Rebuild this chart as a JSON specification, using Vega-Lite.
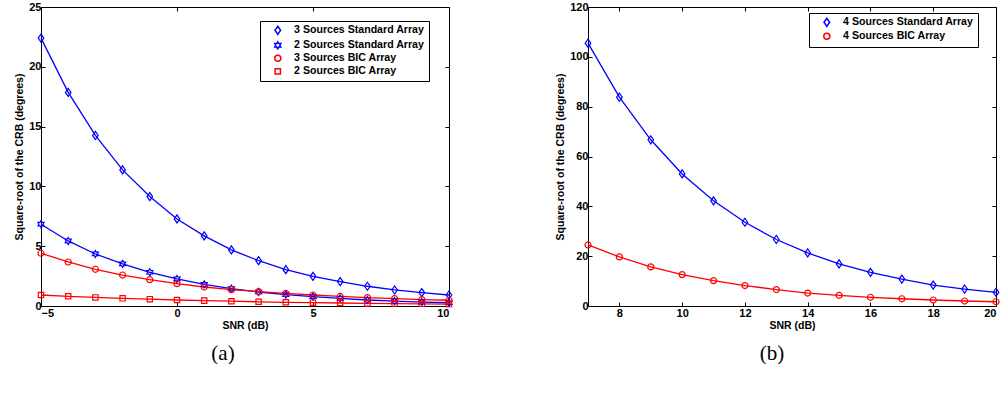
{
  "$schema": "https://vega.github.io/schema/vega-lite/v6.json",
  "background": "white",
  "padding": {"left": 14, "top": 0, "right": 5, "bottom": 0},
  "config": {
    "view": {"stroke": "black", "strokeWidth": 1},
    "axis": {"domain": false, "grid": false, "tickColor": "black", "tickSize": -4, "tickWidth": 1,
      "labelFont": "Liberation Sans", "labelFontWeight": "bold", "labelFontSize": 11, "labelColor": "black", "labelPadding": 5,
      "titleFont": "Liberation Sans", "titleFontWeight": "bold", "titleFontSize": 10.5, "titleColor": "black"},
    "title": {"font": "Liberation Serif", "fontSize": 21, "fontWeight": "normal", "orient": "bottom", "color": "black", "anchor": "middle"}
  },
  "resolve": {"scale": {"color": "independent", "shape": "independent"}, "legend": {"color": "independent", "shape": "independent"}},
  "datasets": {
    "a": [
      {"x": -5, "y": 22.4, "s": "3 Sources Standard Array"}, {"x": -4, "y": 17.86, "s": "3 Sources Standard Array"}, {"x": -3, "y": 14.26, "s": "3 Sources Standard Array"}, {"x": -2, "y": 11.38, "s": "3 Sources Standard Array"}, {"x": -1, "y": 9.15, "s": "3 Sources Standard Array"}, {"x": 0, "y": 7.28, "s": "3 Sources Standard Array"}, {"x": 1, "y": 5.86, "s": "3 Sources Standard Array"}, {"x": 2, "y": 4.69, "s": "3 Sources Standard Array"}, {"x": 3, "y": 3.79, "s": "3 Sources Standard Array"}, {"x": 4, "y": 3.04, "s": "3 Sources Standard Array"}, {"x": 5, "y": 2.48, "s": "3 Sources Standard Array"}, {"x": 6, "y": 2.04, "s": "3 Sources Standard Array"}, {"x": 7, "y": 1.65, "s": "3 Sources Standard Array"}, {"x": 8, "y": 1.34, "s": "3 Sources Standard Array"}, {"x": 9, "y": 1.12, "s": "3 Sources Standard Array"}, {"x": 10, "y": 0.92, "s": "3 Sources Standard Array"},
      {"x": -5, "y": 6.84, "s": "2 Sources Standard Array"}, {"x": -4, "y": 5.44, "s": "2 Sources Standard Array"}, {"x": -3, "y": 4.35, "s": "2 Sources Standard Array"}, {"x": -2, "y": 3.52, "s": "2 Sources Standard Array"}, {"x": -1, "y": 2.82, "s": "2 Sources Standard Array"}, {"x": 0, "y": 2.26, "s": "2 Sources Standard Array"}, {"x": 1, "y": 1.81, "s": "2 Sources Standard Array"}, {"x": 2, "y": 1.45, "s": "2 Sources Standard Array"}, {"x": 3, "y": 1.17, "s": "2 Sources Standard Array"}, {"x": 4, "y": 0.95, "s": "2 Sources Standard Array"}, {"x": 5, "y": 0.78, "s": "2 Sources Standard Array"}, {"x": 6, "y": 0.63, "s": "2 Sources Standard Array"}, {"x": 7, "y": 0.5, "s": "2 Sources Standard Array"}, {"x": 8, "y": 0.41, "s": "2 Sources Standard Array"}, {"x": 9, "y": 0.33, "s": "2 Sources Standard Array"}, {"x": 10, "y": 0.27, "s": "2 Sources Standard Array"},
      {"x": -5, "y": 4.41, "s": "3 Sources BIC Array"}, {"x": -4, "y": 3.68, "s": "3 Sources BIC Array"}, {"x": -3, "y": 3.07, "s": "3 Sources BIC Array"}, {"x": -2, "y": 2.59, "s": "3 Sources BIC Array"}, {"x": -1, "y": 2.2, "s": "3 Sources BIC Array"}, {"x": 0, "y": 1.87, "s": "3 Sources BIC Array"}, {"x": 1, "y": 1.59, "s": "3 Sources BIC Array"}, {"x": 2, "y": 1.37, "s": "3 Sources BIC Array"}, {"x": 3, "y": 1.2, "s": "3 Sources BIC Array"}, {"x": 4, "y": 1.06, "s": "3 Sources BIC Array"}, {"x": 5, "y": 0.92, "s": "3 Sources BIC Array"}, {"x": 6, "y": 0.8, "s": "3 Sources BIC Array"}, {"x": 7, "y": 0.7, "s": "3 Sources BIC Array"}, {"x": 8, "y": 0.62, "s": "3 Sources BIC Array"}, {"x": 9, "y": 0.54, "s": "3 Sources BIC Array"}, {"x": 10, "y": 0.48, "s": "3 Sources BIC Array"},
      {"x": -5, "y": 0.92, "s": "2 Sources BIC Array"}, {"x": -4, "y": 0.81, "s": "2 Sources BIC Array"}, {"x": -3, "y": 0.72, "s": "2 Sources BIC Array"}, {"x": -2, "y": 0.64, "s": "2 Sources BIC Array"}, {"x": -1, "y": 0.57, "s": "2 Sources BIC Array"}, {"x": 0, "y": 0.5, "s": "2 Sources BIC Array"}, {"x": 1, "y": 0.45, "s": "2 Sources BIC Array"}, {"x": 2, "y": 0.4, "s": "2 Sources BIC Array"}, {"x": 3, "y": 0.35, "s": "2 Sources BIC Array"}, {"x": 4, "y": 0.31, "s": "2 Sources BIC Array"}, {"x": 5, "y": 0.28, "s": "2 Sources BIC Array"}, {"x": 6, "y": 0.25, "s": "2 Sources BIC Array"}, {"x": 7, "y": 0.22, "s": "2 Sources BIC Array"}, {"x": 8, "y": 0.2, "s": "2 Sources BIC Array"}, {"x": 9, "y": 0.18, "s": "2 Sources BIC Array"}, {"x": 10, "y": 0.16, "s": "2 Sources BIC Array"}
    ],
    "b": [
      {"x": 7, "y": 105.5, "s": "4 Sources Standard Array"}, {"x": 8, "y": 83.8, "s": "4 Sources Standard Array"}, {"x": 9, "y": 66.7, "s": "4 Sources Standard Array"}, {"x": 10, "y": 53.0, "s": "4 Sources Standard Array"}, {"x": 11, "y": 42.2, "s": "4 Sources Standard Array"}, {"x": 12, "y": 33.6, "s": "4 Sources Standard Array"}, {"x": 13, "y": 26.7, "s": "4 Sources Standard Array"}, {"x": 14, "y": 21.3, "s": "4 Sources Standard Array"}, {"x": 15, "y": 16.9, "s": "4 Sources Standard Array"}, {"x": 16, "y": 13.5, "s": "4 Sources Standard Array"}, {"x": 17, "y": 10.8, "s": "4 Sources Standard Array"}, {"x": 18, "y": 8.4, "s": "4 Sources Standard Array"}, {"x": 19, "y": 6.8, "s": "4 Sources Standard Array"}, {"x": 20, "y": 5.5, "s": "4 Sources Standard Array"},
      {"x": 7, "y": 24.5, "s": "4 Sources BIC Array"}, {"x": 8, "y": 19.7, "s": "4 Sources BIC Array"}, {"x": 9, "y": 15.7, "s": "4 Sources BIC Array"}, {"x": 10, "y": 12.6, "s": "4 Sources BIC Array"}, {"x": 11, "y": 10.2, "s": "4 Sources BIC Array"}, {"x": 12, "y": 8.2, "s": "4 Sources BIC Array"}, {"x": 13, "y": 6.6, "s": "4 Sources BIC Array"}, {"x": 14, "y": 5.2, "s": "4 Sources BIC Array"}, {"x": 15, "y": 4.3, "s": "4 Sources BIC Array"}, {"x": 16, "y": 3.5, "s": "4 Sources BIC Array"}, {"x": 17, "y": 2.9, "s": "4 Sources BIC Array"}, {"x": 18, "y": 2.4, "s": "4 Sources BIC Array"}, {"x": 19, "y": 2.0, "s": "4 Sources BIC Array"}, {"x": 20, "y": 1.7, "s": "4 Sources BIC Array"}
    ]
  },
  "spacing": 100,
  "hconcat": [
    {
      "width": 408, "height": 299,
      "title": {"text": "(a)", "dx": -22, "offset": 12},
      "data": {"name": "a"},
      "layer": [
        {
          "mark": {"type": "line", "strokeWidth": 1.3},
          "encoding": {
            "x": {"field": "x", "type": "quantitative", "scale": {"domain": [-5, 10], "nice": false}, "axis": {"values": [-5, 0, 5, 10], "title": "SNR (dB)", "titlePadding": 2}},
            "y": {"field": "y", "type": "quantitative", "scale": {"domain": [0, 25], "nice": false}, "axis": {"values": [0, 5, 10, 15, 20, 25], "title": "Square-root of the CRB (degrees)", "titlePadding": 4, "labelPadding": 4}},
            "color": {"field": "s", "type": "nominal", "scale": {"domain": ["3 Sources Standard Array", "2 Sources Standard Array", "3 Sources BIC Array", "2 Sources BIC Array"], "range": ["#0000ff", "#0000ff", "#ff0000", "#ff0000"]}}
          }
        },
        {
          "mark": {"type": "point", "filled": false, "size": 49, "strokeWidth": 1.2, "opacity": 1},
          "encoding": {
            "x": {"field": "x", "type": "quantitative", "axis": {"orient": "top", "values": [-5, 0, 5, 10], "labels": false, "title": null}},
            "y": {"field": "y", "type": "quantitative", "axis": {"orient": "right", "values": [0, 5, 10, 15, 20, 25], "labels": false, "title": null}},
            "color": {"field": "s", "type": "nominal",
              "legend": {
                "title": null, "orient": "none", "legendX": 219, "legendY": 14,
                "strokeColor": "black", "fillColor": "white", "padding": 4, "rowPadding": 0,
                "symbolSize": 49, "symbolOffset": 8.5, "labelOffset": 11,
                "labelExpr": "datum.label + '  '",
                "labelFont": "Liberation Sans", "labelFontWeight": "bold", "labelFontSize": 10.6, "labelColor": "black",
                "encode": {"symbols": {
                  "strokeWidth": {"value": 1.2}, "fill": {"value": "transparent"}, "opacity": {"value": 1}, "size": {"value": 49}
                }}
              }
            },
            "shape": {"field": "s", "type": "nominal", "legend": null,
              "scale": {"domain": ["3 Sources Standard Array", "2 Sources Standard Array", "3 Sources BIC Array", "2 Sources BIC Array"],
                "range": ["M0,-1.15L0.8,0L0,1.15L-0.8,0Z", "M0,-1L0.29,-0.5L0.87,-0.5L0.58,0L0.87,0.5L0.29,0.5L0,1L-0.29,0.5L-0.87,0.5L-0.58,0L-0.87,-0.5L-0.29,-0.5Z", "M0.86,0A0.86,0.86,0,1,1,-0.86,0A0.86,0.86,0,1,1,0.86,0Z", "M-0.76,-0.76L0.76,-0.76L0.76,0.76L-0.76,0.76Z"]}
            }
          }
        }
      ],
      "resolve": {"axis": {"x": "independent", "y": "independent"}}
    },
    {
      "width": 408, "height": 299,
      "title": {"text": "(b)", "dx": -20, "offset": 12},
      "data": {"name": "b"},
      "layer": [
        {
          "mark": {"type": "line", "strokeWidth": 1.3},
          "encoding": {
            "x": {"field": "x", "type": "quantitative", "scale": {"domain": [7, 20], "nice": false}, "axis": {"values": [8, 10, 12, 14, 16, 18, 20], "title": "SNR (dB)", "titlePadding": 2}},
            "y": {"field": "y", "type": "quantitative", "scale": {"domain": [0, 120], "nice": false}, "axis": {"values": [0, 20, 40, 60, 80, 100, 120], "title": "Square-root of the CRB (degrees)", "titlePadding": 4, "labelPadding": 4}},
            "color": {"field": "s", "type": "nominal", "scale": {"domain": ["4 Sources Standard Array", "4 Sources BIC Array"], "range": ["#0000ff", "#ff0000"]}}
          }
        },
        {
          "mark": {"type": "point", "filled": false, "size": 49, "strokeWidth": 1.2, "opacity": 1},
          "encoding": {
            "x": {"field": "x", "type": "quantitative", "axis": {"orient": "top", "values": [8, 10, 12, 14, 16, 18, 20], "labels": false, "title": null}},
            "y": {"field": "y", "type": "quantitative", "axis": {"orient": "right", "values": [0, 20, 40, 60, 80, 100, 120], "labels": false, "title": null}},
            "color": {"field": "s", "type": "nominal",
              "legend": {
                "title": null, "orient": "none", "legendX": 221, "legendY": 6,
                "strokeColor": "black", "fillColor": "white", "padding": 4, "rowPadding": 0,
                "symbolSize": 49, "symbolOffset": 8.5, "labelOffset": 11,
                "labelExpr": "datum.label + '  '",
                "labelFont": "Liberation Sans", "labelFontWeight": "bold", "labelFontSize": 10.6, "labelColor": "black",
                "encode": {"symbols": {
                  "strokeWidth": {"value": 1.2}, "fill": {"value": "transparent"}, "opacity": {"value": 1}, "size": {"value": 49}
                }}
              }
            },
            "shape": {"field": "s", "type": "nominal", "legend": null,
              "scale": {"domain": ["4 Sources Standard Array", "4 Sources BIC Array"],
                "range": ["M0,-1.15L0.8,0L0,1.15L-0.8,0Z", "M0.86,0A0.86,0.86,0,1,1,-0.86,0A0.86,0.86,0,1,1,0.86,0Z"]}
            }
          }
        }
      ],
      "resolve": {"axis": {"x": "independent", "y": "independent"}}
    }
  ]
}
